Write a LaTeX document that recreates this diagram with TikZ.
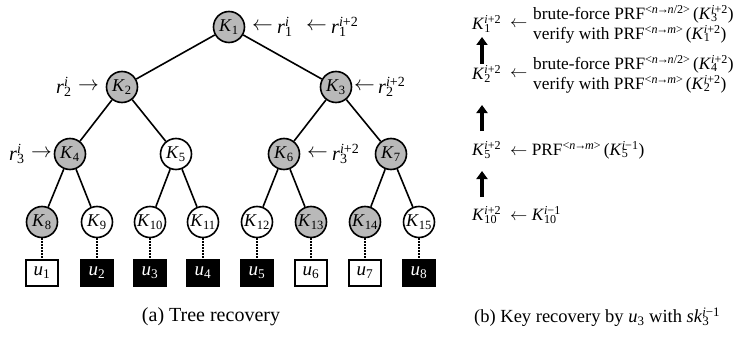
\documentclass[tikz,border=0pt]{standalone}
\usepackage{fontspec}
\setmainfont{Liberation Serif}
\usetikzlibrary{arrows.meta}
\newcommand\vr[3]{\textit{#1}\rlap{\textsubscript{#2}}\textsuperscript{#3}}
\newcommand\ip{\textit{i}+2}
\newcommand\im{\textit{i}−1}
\newcommand\prfa{PRF\textsuperscript{<\textit{n}\kern-0.1em→\kern-0.1em\textit{n}/2>}}
\newcommand\prfb{PRF\textsuperscript{<\textit{n}\kern-0.1em→\kern-0.1em\textit{m}>}}
\tikzset{
  keynode/.style={circle, draw, line width=1.6pt, minimum size=31pt, inner sep=0pt, fill=white, font=\fontsize{18}{18}\selectfont},
  gk/.style={keynode, fill=gray!55},
  userbox/.style={draw, line width=1.4pt, minimum width=32pt, minimum height=26pt, inner sep=0pt, fill=white, font=\fontsize{19}{19}\selectfont},
  bk/.style={userbox, fill=black, text=white},
  edge/.style={line width=1.6pt},
  dotedge/.style={line width=1.8pt, dash pattern=on 1.6pt off 1.4pt},
  lab/.style={inner sep=0pt, anchor=west, font=\fontsize{20}{22}\selectfont},
  rtxt/.style={inner sep=0pt, anchor=west, font=\fontsize{17.3}{20}\selectfont},
  bigarrow/.style={line width=4.5pt, -{Triangle[length=8pt, width=11pt]}},
  captext/.style={inner sep=0pt, font=\fontsize{20}{22}\selectfont}
}
\begin{document}
\begin{tikzpicture}[x=1pt, y=-1pt]
\useasboundingbox (0,0) rectangle (742,337);
% tree nodes
\node[gk] (K1) at (229,27) {\textit{K}\textsubscript{1}};
\node[gk] (K2) at (122,87) {\textit{K}\textsubscript{2}};
\node[gk] (K3) at (336,87) {\textit{K}\textsubscript{3}};
\node[gk] (K4) at (70,154) {\textit{K}\textsubscript{4}};
\node[keynode] (K5) at (176,154) {\textit{K}\textsubscript{5}};
\node[gk] (K6) at (284,154) {\textit{K}\textsubscript{6}};
\node[gk] (K7) at (391,154) {\textit{K}\textsubscript{7}};
\node[gk] (K8) at (42,222) {\textit{K}\textsubscript{8}};
\node[keynode] (K9) at (97,222) {\textit{K}\textsubscript{9}};
\node[keynode] (K10) at (150,222) {\textit{K}\textsubscript{10}};
\node[keynode] (K11) at (203,222) {\textit{K}\textsubscript{11}};
\node[keynode] (K12) at (257,222) {\textit{K}\textsubscript{12}};
\node[gk] (K13) at (311,222) {\textit{K}\textsubscript{13}};
\node[gk] (K14) at (365,222) {\textit{K}\textsubscript{14}};
\node[keynode] (K15) at (419,222) {\textit{K}\textsubscript{15}};
% user boxes
\node[userbox] (u1) at (42,273) {\textit{u}\textsubscript{1}};
\node[bk] (u2) at (97,273) {\textit{u}\textsubscript{2}};
\node[bk] (u3) at (150,273) {\textit{u}\textsubscript{3}};
\node[bk] (u4) at (203,273) {\textit{u}\textsubscript{4}};
\node[bk] (u5) at (257,273) {\textit{u}\textsubscript{5}};
\node[userbox] (u6) at (311,273) {\textit{u}\textsubscript{6}};
\node[userbox] (u7) at (365,273) {\textit{u}\textsubscript{7}};
\node[bk] (u8) at (419,273) {\textit{u}\textsubscript{8}};
% edges
\draw[edge] (K1) -- (K2); \draw[edge] (K1) -- (K3);
\draw[edge] (K2) -- (K4); \draw[edge] (K2) -- (K5);
\draw[edge] (K3) -- (K6); \draw[edge] (K3) -- (K7);
\draw[edge] (K4) -- (K8); \draw[edge] (K4) -- (K9);
\draw[edge] (K5) -- (K10); \draw[edge] (K5) -- (K11);
\draw[edge] (K6) -- (K12); \draw[edge] (K6) -- (K13);
\draw[edge] (K7) -- (K14); \draw[edge] (K7) -- (K15);
\foreach \i/\j in {8/1,9/2,10/3,11/4,12/5,13/6,14/7,15/8}
  \draw[dotedge] (K\i) -- (u\j);
% tree labels
\node[lab] (a1) at (252,27) {$\leftarrow$};
\node[lab] (r1) at (277,27) {\vr{r}{1}{\textit{i}}};
\node[lab] (a1b) at (306,27) {$\leftarrow$};
\node[lab] (r1b) at (331,27) {\vr{r}{1}{\ip}};
\node[lab] (r2) at (56,87) {\vr{r}{2}{\textit{i}}};
\node[lab] (a2) at (78,87) {$\rightarrow$};
\node[lab] (a2b) at (354,87) {$\leftarrow$};
\node[lab] (r2b) at (378,87) {\vr{r}{2}{\ip}};
\node[lab] (r3) at (9,154) {\vr{r}{3}{\textit{i}}};
\node[lab] (a3) at (31,154) {$\rightarrow$};
\node[lab] (a3b) at (307,154) {$\leftarrow$};
\node[lab] (r3b) at (332,154) {\vr{r}{3}{\ip}};
% right panel
\node[rtxt] (k1r) at (472,24) {\vr{K}{1}{\ip}};
\node[rtxt] (k1a) at (510,24) {$\leftarrow$};
\node[rtxt] (l1) at (533,14) {brute-force \prfa\kern-0.1em\ (\vr{K}{3}{\ip})};
\node[rtxt] (l2) at (533,34) {verify with \prfb\kern-0.1em\ (\vr{K}{1}{\ip})};
\node[rtxt] (k2r) at (472,74) {\vr{K}{2}{\ip}};
\node[rtxt] (k2a) at (510,74) {$\leftarrow$};
\node[rtxt] (l3) at (533,64) {brute-force \prfa\kern-0.1em\ (\vr{K}{4}{\ip})};
\node[rtxt] (l4) at (533,84) {verify with \prfb\kern-0.1em\ (\vr{K}{2}{\ip})};
\node[rtxt] (k5r) at (472,150) {\vr{K}{5}{\ip}};
\node[rtxt] (l5) at (510,150) {$\leftarrow$ \prfb\kern-0.1em\ (\vr{K}{5}{\im})};
\node[rtxt] (k10r) at (472,215) {\vr{K}{10}{\ip}};
\node[rtxt] (l6) at (510,215) {$\leftarrow$ \vr{K}{10}{\im}};
\coordinate (b1s) at (482,64); \coordinate (b1e) at (482,37);
\coordinate (b2s) at (482,131); \coordinate (b2e) at (482,105);
\coordinate (b3s) at (482,197); \coordinate (b3e) at (482,171);
\draw[bigarrow] (b1s) -- (b1e);
\draw[bigarrow] (b2s) -- (b2e);
\draw[bigarrow] (b3s) -- (b3e);
% captions
\node[captext] (ca) at (211,317) {(a) Tree recovery};
\node[captext, anchor=west, font=\fontsize{18.5}{22}\selectfont] (cb) at (474,317) {(b) Key recovery by \textit{u}\textsubscript{3} with \vr{sk}{3}{\im}};
\end{tikzpicture}
\end{document}
